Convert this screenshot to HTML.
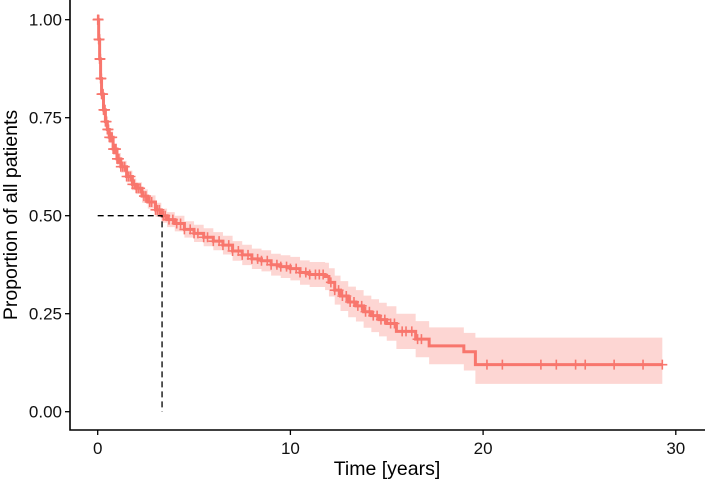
<!DOCTYPE html>
<html><head><meta charset="utf-8"><style>
body{margin:0;background:#fff}
svg{display:block;font-family:"Liberation Sans",Arial,sans-serif}
</style></head><body>
<svg id="chart" width="705" height="482"></svg>
<script>
const times=[0,0.05,0.1,0.15,0.2,0.3,0.4,0.5,0.6,0.8,1.0,1.2,1.5,1.8,2.0,2.3,2.6,3.0,3.3,3.6,4.0,4.5,5.0,5.5,6.0,6.5,7.0,7.5,8.0,8.5,9.0,9.5,10.0,10.5,11.0,11.8,12.0,12.3,12.6,13.0,13.4,13.8,14.2,14.6,15.0,15.5,16.5,17.2,19.0,19.6];
const surv=[1.0,0.95,0.9,0.85,0.81,0.77,0.74,0.72,0.70,0.67,0.645,0.625,0.60,0.58,0.57,0.55,0.535,0.515,0.50,0.49,0.48,0.465,0.455,0.445,0.435,0.425,0.41,0.40,0.39,0.385,0.375,0.37,0.365,0.355,0.35,0.345,0.33,0.31,0.295,0.28,0.27,0.255,0.245,0.235,0.225,0.205,0.185,0.168,0.153,0.12];
const upper=[1.0,0.96,0.915,0.865,0.825,0.785,0.755,0.735,0.715,0.685,0.66,0.64,0.615,0.595,0.585,0.567,0.552,0.533,0.518,0.509,0.5,0.486,0.477,0.468,0.458,0.449,0.435,0.426,0.416,0.412,0.403,0.399,0.395,0.386,0.382,0.38,0.366,0.347,0.333,0.319,0.31,0.296,0.287,0.278,0.269,0.25,0.231,0.215,0.201,0.189];
const lower=[1.0,0.94,0.885,0.835,0.795,0.755,0.725,0.705,0.685,0.655,0.63,0.61,0.585,0.565,0.555,0.533,0.518,0.497,0.482,0.471,0.46,0.444,0.433,0.422,0.412,0.401,0.385,0.374,0.364,0.358,0.347,0.341,0.335,0.324,0.318,0.31,0.294,0.273,0.257,0.241,0.23,0.214,0.203,0.192,0.181,0.16,0.139,0.121,0.105,0.071];
const censor=[0,0.005,0.01,0.015,0.02,0.025,0.03,0.035,0.04,0.045,0.05,0.055,0.06,0.065,0.07,0.075,0.08,0.085,0.09,0.095,0.1,0.105,0.11,0.115,0.12,0.13,0.14,0.15,0.16,0.17,0.18,0.19,0.2,0.22,0.24,0.26,0.28,0.3,0.32,0.34,0.36,0.38,0.4,0.43,0.46,0.5,0.53,0.56,0.6,0.65,0.7,0.75,0.8,0.85,0.9,0.95,1.0,1.05,1.1,1.2,1.3,1.4,1.5,1.6,1.7,1.8,1.9,2.0,2.1,2.2,2.4,2.5,2.7,2.8,3.0,3.1,3.2,3.4,3.5,3.7,3.9,4.1,4.3,4.5,4.8,5.0,5.2,5.5,5.7,6.0,6.3,6.5,6.8,7.0,7.3,7.5,7.8,8.0,8.3,8.5,8.8,9.0,9.3,9.5,9.8,10.0,10.3,10.5,10.8,11.0,11.3,11.5,11.7,12.1,12.3,12.5,12.7,12.9,13.1,13.3,13.5,13.7,13.9,14.1,14.3,14.5,14.7,14.9,15.2,15.4,15.8,16.0,16.3,16.6,16.8,20.2,21.0,23.0,23.8,24.8,25.3,26.8,28.3,29.3];
const endT=29.3, median=3.34;
const yTicks=[0,0.25,0.5,0.75,1.0], yLabels=["0.00","0.25","0.50","0.75","1.00"];
const xTicks=[0,10,20,30], xLabels=["0","10","20","30"];
const X=t=>97.7+t*19.27, Y=v=>411.7-v*392;
const svg=document.getElementById('chart'), NS='http://www.w3.org/2000/svg';
function el(tag,attrs,parent){const e=document.createElementNS(NS,tag);for(const k in attrs)e.setAttribute(k,attrs[k]);(parent||svg).appendChild(e);return e;}
function S(t){let v=1;for(let i=0;i<times.length;i++)if(times[i]<=t)v=surv[i];return v;}
let up='',lo='';
for(let i=0;i<times.length;i++){const x0=X(times[i]),x1=X(i<times.length-1?times[i+1]:endT);
up+=(i?'L':'M')+x0+','+Y(upper[i])+'L'+x1+','+Y(upper[i]);}
for(let i=times.length-1;i>=0;i--){const x0=X(times[i]),x1=X(i<times.length-1?times[i+1]:endT);
lo+='L'+x1+','+Y(lower[i])+'L'+x0+','+Y(lower[i]);}
const rib=el('path',{d:up+lo+'Z',fill:'#F8766D','fill-opacity':0.3,stroke:'none'});


let d='';
for(let i=0;i<times.length;i++){const x0=X(times[i]),x1=X(i<times.length-1?times[i+1]:endT);
d+=(i?'L':'M')+x0+','+Y(surv[i])+'L'+x1+','+Y(surv[i]);}
const line=el('path',{d:d,fill:'none',stroke:'#F8766D','stroke-width':3});


censor.forEach(t=>{const x=X(t),y=Y(S(t));
const p=el('path',{d:`M${x-5},${y}H${x+5}M${x},${y-5}V${y+5}`,stroke:'#F8766D','stroke-width':1.6});

});
const m=el('path',{d:`M${X(0)},${Y(0.5)}H${X(median)}V${Y(0)}`,fill:'none',stroke:'#000','stroke-width':1.3,'stroke-dasharray':'6,4'});


const ax=el('path',{d:'M70,0V430H705',fill:'none',stroke:'#000','stroke-width':1.6});


yTicks.forEach((v,i)=>{el('line',{x1:65,x2:70,y1:Y(v),y2:Y(v),stroke:'#000','stroke-width':1.3});
const t=el('text',{x:62,y:Y(v)+6,'text-anchor':'end','font-size':17,fill:'#111'});t.textContent=yLabels[i];

});
xTicks.forEach((v,i)=>{el('line',{x1:X(v),x2:X(v),y1:430,y2:435,stroke:'#000','stroke-width':1.3});
const t=el('text',{x:X(v),y:454,'text-anchor':'middle','font-size':17,fill:'#111'});t.textContent=xLabels[i];

});
const xt=el('text',{x:387,y:475,'text-anchor':'middle','font-size':19.5,fill:'#000'});xt.textContent='Time [years]';


const yt=el('text',{x:0,y:0,'text-anchor':'middle','font-size':19.5,fill:'#000',transform:'translate(17,215) rotate(-90)'});yt.textContent='Proportion of all patients';


</script>
</body></html>
